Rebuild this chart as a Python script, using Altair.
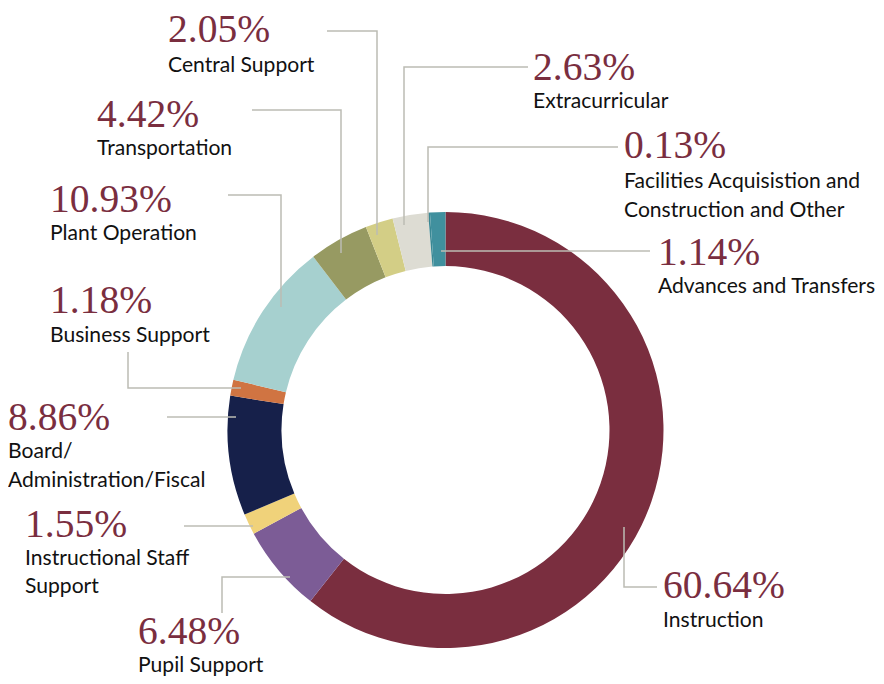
import altair as alt
import pandas as pd

# ---------------- data ----------------
categories = [
    "Instruction", "Pupil Support", "Instructional Staff Support",
    "Board/Administration/Fiscal", "Business Support", "Plant Operation",
    "Transportation", "Central Support", "Extracurricular",
    "Facilities Acquisistion and Construction and Other", "Advances and Transfers",
]
values = [60.64, 6.48, 1.55, 8.86, 1.18, 10.93, 4.42, 2.05, 2.63, 0.13, 1.14]
colors = ["#7a2e3f", "#7c5c96", "#f0d27a", "#16204a", "#d07442", "#a6d0cf",
          "#979a62", "#d3ce86", "#dddcd3", "#3a8894", "#40909e"]
name_lines = [
    ["Instruction"], ["Pupil Support"], ["Instructional Staff", "Support"],
    ["Board/", "Administration/Fiscal"], ["Business Support"], ["Plant Operation"],
    ["Transportation"], ["Central Support"], ["Extracurricular"],
    ["Facilities Acquisistion and", "Construction and Other"], ["Advances and Transfers"],
]

# ---------------- layout (page pixels) ----------------
OFF = 8
CX, CY, R_OUT, R_IN = 445.5, 430, 218, 164
# label anchor: (x, baseline of percentage, baselines of name lines)
label_pos = [
    (663, 598, [627]),
    (138, 644, [672]),
    (25, 537, [565, 593]),
    (8, 430, [458, 487]),
    (50, 313, [342]),
    (50, 212, [240]),
    (97, 127, [155]),
    (168, 42, [72]),
    (533, 80, [108]),
    (624, 158, [188, 217]),
    (658, 265, [293]),
]
leaders = [
    [(624, 527), (624, 587), (657, 587)],
    [(222, 613), (222, 577), (290, 577)],
    [(184, 526), (253, 526)],
    [(167, 417), (236, 417)],
    [(128, 352), (128, 388), (241, 388)],
    [(228, 195), (281, 195), (281, 307)],
    [(252, 110), (341, 110), (341, 253)],
    [(327, 31), (377, 31), (377, 235)],
    [(528, 67), (404, 67), (404, 225)],
    [(618, 147), (428, 147), (428, 222)],
    [(650, 251), (441, 251)],
]

# ---------------- tables ----------------
slices = pd.DataFrame({
    "cat": categories, "value": values, "idx": list(range(len(values))),
})

pct_rows, name_rows, line_rows = [], [], []
for i, (cat, v) in enumerate(zip(categories, values)):
    lx, py, nys = label_pos[i]
    pct_rows.append({"x": lx - OFF, "y": py - OFF, "t": f"{v:.2f}%"})
    for txt, ny in zip(name_lines[i], nys):
        name_rows.append({"x": lx - OFF, "y": ny - OFF, "t": txt})
    for k, (px, py2) in enumerate(leaders[i]):
        line_rows.append({"g": i, "k": k, "x": px - OFF, "y": py2 - OFF})

pct_df = pd.DataFrame(pct_rows)
name_df = pd.DataFrame(name_rows)
line_df = pd.DataFrame(line_rows)

arc = alt.Chart(slices).mark_arc(
    radius=R_OUT, radius2=R_IN, stroke=None
).encode(
    theta=alt.Theta("value:Q", stack=True),
    order=alt.Order("idx:Q"),
    color=alt.Color("cat:N", scale=alt.Scale(domain=categories, range=colors), legend=None),
    x=alt.value(CX - OFF),
    y=alt.value(CY - OFF),
)

lines = alt.Chart(line_df).mark_line(color="#bcbcb4", strokeWidth=1.5).encode(
    x=alt.X("x:Q", scale=None),
    y=alt.Y("y:Q", scale=None),
    detail="g:N",
    order="k:Q",
)

pct = alt.Chart(pct_df).mark_text(
    align="left", baseline="alphabetic", font="Liberation Serif",
    fontSize=39.5, color="#7a2e3f",
).encode(x=alt.X("x:Q", scale=None), y=alt.Y("y:Q", scale=None), text="t:N")

names = alt.Chart(name_df).mark_text(
    align="left", baseline="alphabetic", font="Lato",
    fontSize=21.1, color="#111111",
).encode(x=alt.X("x:Q", scale=None), y=alt.Y("y:Q", scale=None), text="t:N")

chart = alt.layer(arc, lines, pct, names).properties(
    width=868, height=668, padding=0, background="white",
    autosize=alt.AutoSizeParams(type="none"),
).configure_view(stroke=None)

chart.save("out.html", embed_options={"renderer": "svg", "actions": False})
